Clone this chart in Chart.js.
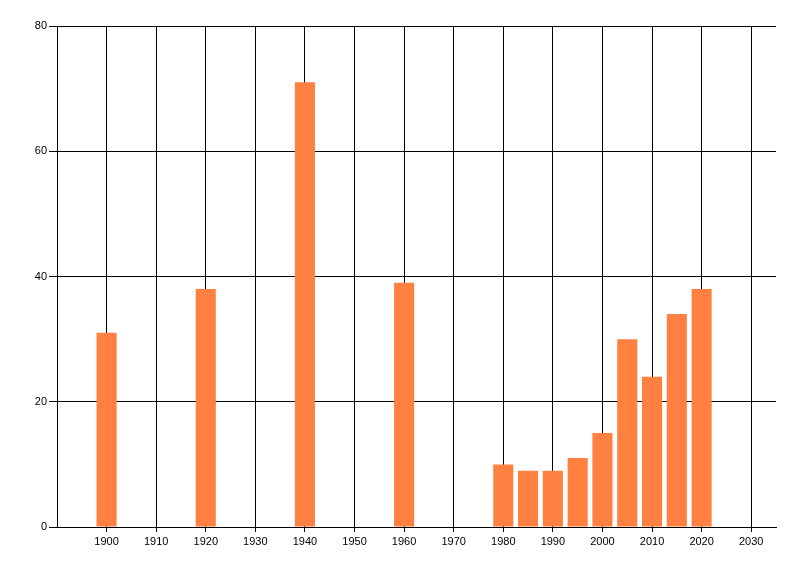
<!DOCTYPE html>
<html>
<head>
<meta charset="utf-8">
<script src="https://cdn.jsdelivr.net/npm/chart.js@4.4.0/dist/chart.umd.min.js"></script>
<style>
  html, body { margin: 0; padding: 0; background: #fff; }
  #wrap { width: 800px; height: 576px; position: relative; }
</style>
</head>
<body>
<div id="wrap"><canvas id="c"></canvas></div>
<script>
const years = [1900, 1920, 1940, 1960, 1980, 1985, 1990, 1995, 2000, 2005, 2010, 2015, 2020];
const values = [31, 38, 71, 39, 10, 9, 9, 11, 15, 30, 24, 34, 38];
const xTickYears = [1900, 1910, 1920, 1930, 1940, 1950, 1960, 1970, 1980, 1990, 2000, 2010, 2020, 2030];
const yTickValues = [0, 20, 40, 60, 80];

const points = years.map((y, i) => ({ x: y, y: values[i] }));

new Chart(document.getElementById('c'), {
  type: 'bar',
  data: {
    datasets: [{
      data: points,
      backgroundColor: '#FF8040',
      borderWidth: 0,
      categoryPercentage: 1.0,
      barPercentage: 0.81
    }]
  },
  options: {
    responsive: true,
    maintainAspectRatio: false,
    animation: false,
    events: [],
    layout: { padding: { left: 0, right: 24, top: 26, bottom: 0 } },
    plugins: { legend: { display: false }, tooltip: { enabled: false } },
    scales: {
      x: {
        type: 'linear',
        min: 1890,
        max: 2035,
        offset: false,
        afterBuildTicks: (scale) => { scale.ticks = xTickYears.map(v => ({ value: v })); },
        afterFit: (scale) => { scale.height = 49; },
        ticks: {
          color: '#000',
          font: { family: 'Liberation Sans', size: 11 },
          padding: 3,
          maxRotation: 0,
          autoSkip: false,
          callback: (v) => String(v)
        },
        grid: { color: '#000', lineWidth: 1, tickLength: 5, drawTicks: true, offset: false },
        border: { color: '#000', width: 1 }
      },
      y: {
        min: 0,
        max: 80,
        afterBuildTicks: (scale) => { scale.ticks = yTickValues.map(v => ({ value: v })); },
        afterFit: (scale) => { scale.width = 57; },
        ticks: {
          color: '#000',
          font: { family: 'Liberation Sans', size: 11 },
          padding: 2
        },
        grid: { color: '#000', lineWidth: 1, tickLength: 8, drawTicks: true },
        border: { color: '#000', width: 1 }
      }
    }
  }
});
</script>
</body>
</html>
